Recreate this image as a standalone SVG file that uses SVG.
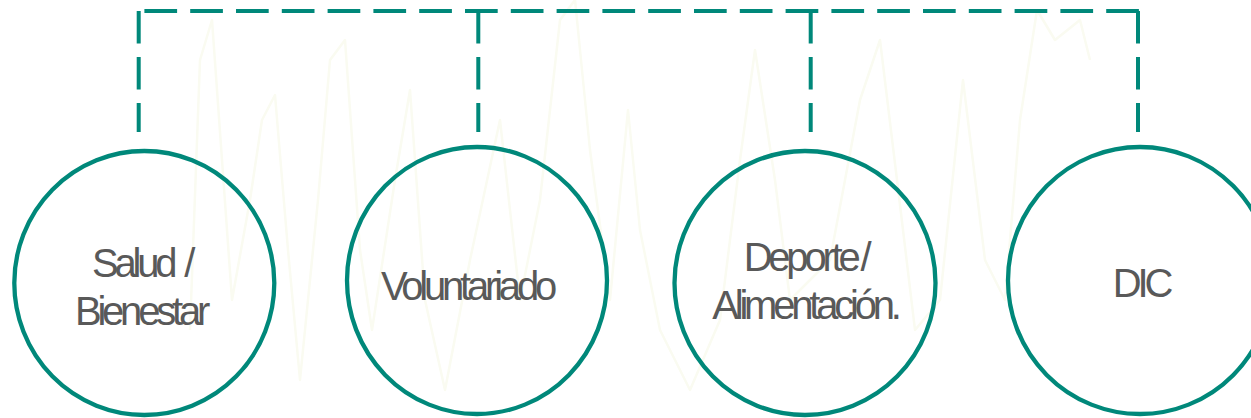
<svg xmlns="http://www.w3.org/2000/svg" width="1251" height="418" viewBox="0 0 1251 418">
  <style>
    .wm { fill: none; stroke: #fafbf1; stroke-width: 2.5; stroke-linejoin: round; }
    .conn { fill: none; stroke: #00887A; stroke-width: 4; stroke-linecap: butt; }
    .h { stroke-dasharray: 32.7 13.1; }
    .v { stroke-dasharray: 32.5 13.5; }
    .node { fill: none; stroke: #00887A; stroke-width: 4.3; }
    .lbl { font-family: "Liberation Sans", Arial, sans-serif; font-size: 40px; fill: #595959; letter-spacing: -4.2px; text-anchor: middle; }
  </style>
  <rect width="1251" height="418" fill="#ffffff"/>
  <g id="watermark">
    <path class="wm" d="M190,330 L200,60 L212,20 L222,160 L232,300 L250,200 L262,120 L275,95 L288,250 L300,380 L318,200 L330,60 L345,40 L360,250 L372,330 L395,180 L410,90 L425,300 L445,390 L470,260 L500,120 L520,300 L540,200 L560,20 L575,0 L590,150 L610,300 L628,110 L640,230 L660,330 L690,390 L720,320 L740,160 L755,50 L775,180 L790,300 L830,260 L860,100 L880,40 L897,180 L915,330 L940,300 L963,80 L985,260 L1005,300 L1020,120 L1037,10 L1055,40 L1080,20 L1090,60"/>
  </g>
  <g id="connectors">
    <line class="conn h" x1="144.4" y1="11" x2="1139" y2="11"/>
    <line class="conn v" x1="138.7" y1="11" x2="138.7" y2="132"/>
    <line class="conn v" x1="478.3" y1="11" x2="478.3" y2="132"/>
    <line class="conn v" x1="810.7" y1="11" x2="810.7" y2="132"/>
    <line class="conn v" x1="1138" y1="11" x2="1138" y2="132"/>
  </g>
  <g id="node-salud">
    <ellipse class="node" cx="144.3" cy="283" rx="130" ry="132"/>
    <text class="lbl" x="141.5" y="277" word-spacing="4">Salud /</text>
    <text class="lbl" x="140.5" y="325">Bienestar</text>
  </g>
  <g id="node-voluntariado">
    <ellipse class="node" cx="477" cy="280.5" rx="130" ry="133.5"/>
    <text class="lbl" x="467" y="300">Voluntariado</text>
  </g>
  <g id="node-deporte">
    <ellipse class="node" cx="805" cy="283" rx="130.5" ry="132"/>
    <text class="lbl" x="805.5" y="271" word-spacing="-3">Deporte /</text>
    <text class="lbl" x="805" y="318.5">Alimentación.</text>
  </g>
  <g id="node-dic">
    <ellipse class="node" cx="1140" cy="280.5" rx="132" ry="133.5"/>
    <text class="lbl" x="1141" y="297">DIC</text>
  </g>
</svg>
